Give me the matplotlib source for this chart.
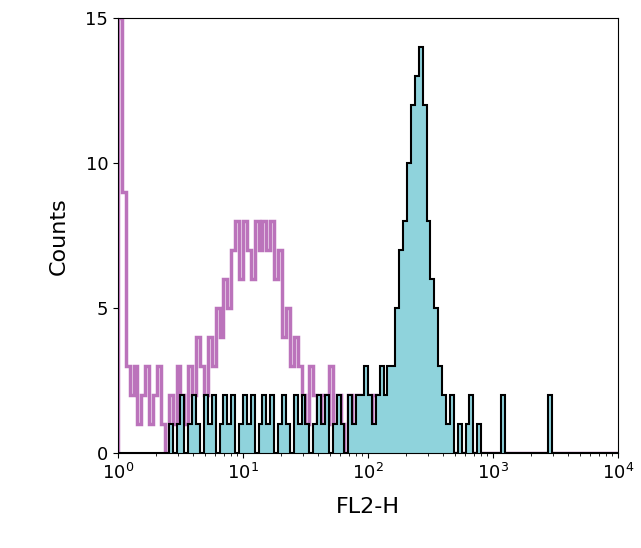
import numpy as np
import matplotlib.pyplot as plt

# 32 log-spaced bins per decade, 1 .. 10^4
edges = 10 ** (np.arange(129) / 32)

magenta = [15, 9, 3, 2, 3, 1, 2, 3, 1, 2, 3, 1, 0, 2, 1, 3, 2, 1, 3, 2, 4, 3, 2, 4, 3, 5, 4, 6, 5, 7, 8, 6,
           8, 7, 6, 8, 7, 8, 7, 8, 6, 7, 4, 5, 3, 4, 3, 2, 1, 3, 2, 1, 2, 1, 3, 1, 2, 1, 0, 2, 1, 2, 1, 2,
           1, 2, 0, 1, 0]
cyan = [0] * 13 + [1, 0, 1, 2, 0, 1, 2, 1, 0, 2, 1, 2, 0, 1, 2, 1, 2, 0, 1,
        2, 1, 2, 0, 1, 2, 1, 2, 0, 1, 2, 1, 0, 2, 1, 2, 1, 0, 1, 2, 1, 2, 0, 1, 2, 1, 0, 2, 1, 2, 2, 3,
        2, 1, 2, 3, 2, 3, 3, 5, 7, 8, 10, 12, 13, 14, 12, 8, 6, 5, 3, 2, 1, 2, 0, 1, 0, 1, 2, 0, 1, 0, 0, 0,
        0, 0, 2, 0, 0, 0, 0, 0, 0, 0, 0, 0, 0, 0, 2]
magenta = np.array(magenta + [0] * (128 - len(magenta)))
cyan = np.array(cyan + [0] * (128 - len(cyan)))

fig = plt.figure(figsize=(6.41, 5.48), dpi=100)
ax = fig.add_axes([0.184, 0.173, 0.78, 0.794])
ax.stairs(magenta, edges, color='#b464b4', lw=2.5, alpha=0.9)
ax.stairs(cyan, edges, fill=True, color='#8fd3dc')
ax.stairs(cyan, edges, color='black', lw=1.5)

ax.set_xscale('log')
ax.set_xlim(1, 1e4)
ax.set_ylim(0, 15)
ax.set_yticks([0, 5, 10, 15])
ax.tick_params(labelsize=13)
ax.set_xlabel('FL2-H', fontsize=16, labelpad=10)
ax.set_ylabel('Counts', fontsize=16, labelpad=12)

fig.savefig('out.png', dpi=100)
